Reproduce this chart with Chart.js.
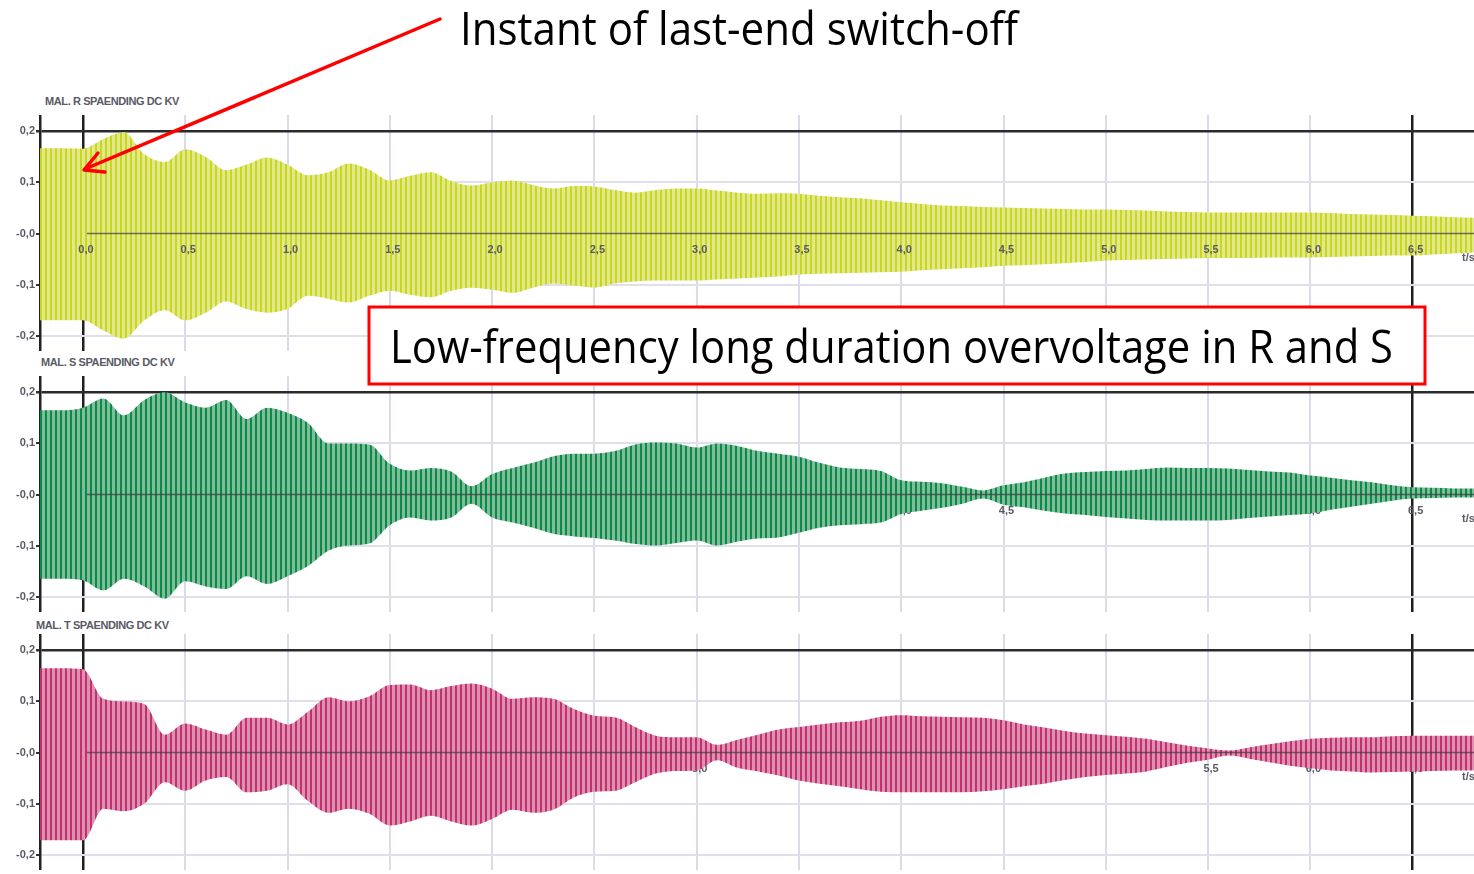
<!DOCTYPE html>
<html>
<head>
<meta charset="utf-8">
<script src="https://cdn.jsdelivr.net/npm/chart.js@4.4.1/dist/chart.umd.min.js"></script>
<style>
  body { margin: 0; width: 1474px; height: 874px; background: #fff; position: relative; overflow: hidden;
         font-family: "Liberation Sans", Arial, sans-serif; }
  .panel { position: absolute; left: 0; width: 1474px; }
  .ttl { position: absolute; font-size: 11px; font-weight: bold; color: #5a5a66; letter-spacing: -0.4px; white-space: nowrap; }
  .note { position: absolute; font-family: "Open Sans", sans-serif; font-size: 46px; line-height: 46px;
          color: #000; white-space: nowrap; transform-origin: 0 0; }
  svg { position: absolute; left: 0; top: 0; }
</style>
</head>
<body>
<div class="ttl" style="left:45px;top:95px">MAL. R SPAENDING DC KV</div>
<div class="ttl" style="left:41px;top:356px">MAL. S SPAENDING DC KV</div>
<div class="ttl" style="left:36px;top:619px">MAL. T SPAENDING DC KV</div>

<div class="panel" style="top:115px;height:236px"><canvas id="pR"></canvas></div>
<div class="panel" style="top:376px;height:236px"><canvas id="pS"></canvas></div>
<div class="panel" style="top:634px;height:236px"><canvas id="pT"></canvas></div>

<svg width="1474" height="874">
  <rect x="369" y="307" width="1056" height="77" fill="#fff" stroke="#f00" stroke-width="3"/>
  <line x1="440" y1="19" x2="85" y2="169" stroke="#f00" stroke-width="3.5" stroke-linecap="round"/>
  <polyline points="98,153 84,170 105,172" fill="none" stroke="#f00" stroke-width="3.5" stroke-linecap="round" stroke-linejoin="round"/>
</svg>
<div class="note" id="n1" style="left:460px;top:4px">Instant of last-end switch-off</div>
<div class="note" id="n2" style="left:390px;top:322px">Low-frequency long duration overvoltage in R and S</div>

<script>
// time axis (s) for the envelope readings
const times = [
  -0.21, -0.1, 0, 0.1, 0.2, 0.3, 0.4, 0.5, 0.6, 0.7,
  0.8, 0.9, 1.0, 1.1, 1.2, 1.3, 1.4, 1.5, 1.6, 1.7,
  1.8, 1.9, 2.0, 2.1, 2.2, 2.3, 2.4, 2.5, 2.6, 2.7,
  2.8, 2.9, 3.0, 3.1, 3.2, 3.3, 3.4, 3.5, 3.6, 3.7,
  3.8, 3.9, 4.0, 4.1, 4.2, 4.3, 4.4, 4.5, 4.6, 4.7,
  4.8, 4.9, 5.0, 5.1, 5.2, 5.3, 5.4, 5.5, 5.6, 5.7,
  5.8, 5.9, 6.0, 6.1, 6.2, 6.3, 6.4, 6.5, 6.6, 6.7,
  6.8
];

// phase R (yellow): positive and negative peak envelope, kV
const rUpper = [
  0.167, 0.167, 0.166, 0.185, 0.198, 0.155, 0.140, 0.165, 0.150, 0.124,
  0.135, 0.149, 0.135, 0.114, 0.120, 0.137, 0.125, 0.104, 0.113, 0.120,
  0.103, 0.094, 0.100, 0.104, 0.095, 0.088, 0.093, 0.092, 0.085, 0.080,
  0.085, 0.088, 0.088, 0.084, 0.080, 0.078, 0.079, 0.078, 0.074, 0.071,
  0.069, 0.065, 0.061, 0.058, 0.055, 0.054, 0.052, 0.051, 0.050, 0.049,
  0.048, 0.047, 0.047, 0.046, 0.045, 0.043, 0.042, 0.041, 0.041, 0.041,
  0.041, 0.041, 0.041, 0.040, 0.038, 0.037, 0.036, 0.035, 0.034, 0.032,
  0.031
];
const rLower = [
  -0.170, -0.170, -0.170, -0.190, -0.206, -0.170, -0.150, -0.170, -0.155, -0.133,
  -0.148, -0.155, -0.148, -0.122, -0.128, -0.135, -0.122, -0.112, -0.120, -0.125,
  -0.112, -0.106, -0.110, -0.116, -0.106, -0.098, -0.102, -0.106, -0.098, -0.094,
  -0.092, -0.092, -0.092, -0.090, -0.088, -0.086, -0.084, -0.080, -0.079, -0.078,
  -0.077, -0.076, -0.075, -0.072, -0.070, -0.068, -0.066, -0.063, -0.062, -0.060,
  -0.058, -0.056, -0.053, -0.052, -0.051, -0.050, -0.049, -0.048, -0.048, -0.048,
  -0.047, -0.047, -0.047, -0.046, -0.045, -0.044, -0.043, -0.043, -0.041, -0.039,
  -0.037
];

// phase S (green)
const sUpper = [
  0.165, 0.165, 0.170, 0.188, 0.155, 0.185, 0.200, 0.180, 0.170, 0.185,
  0.148, 0.170, 0.160, 0.140, 0.100, 0.100, 0.098, 0.060, 0.047, 0.052,
  0.045, 0.016, 0.040, 0.052, 0.062, 0.075, 0.080, 0.080, 0.085, 0.098,
  0.102, 0.100, 0.092, 0.100, 0.095, 0.085, 0.080, 0.074, 0.062, 0.053,
  0.050, 0.046, 0.028, 0.025, 0.022, 0.015, 0.008, 0.018, 0.024, 0.033,
  0.041, 0.044, 0.046, 0.047, 0.050, 0.053, 0.052, 0.052, 0.051, 0.048,
  0.045, 0.043, 0.037, 0.033, 0.028, 0.024, 0.018, 0.014, 0.013, 0.012,
  0.012
];
const sLower = [
  -0.165, -0.165, -0.168, -0.188, -0.165, -0.180, -0.204, -0.170, -0.180, -0.185,
  -0.160, -0.175, -0.160, -0.140, -0.110, -0.100, -0.096, -0.060, -0.045, -0.051,
  -0.045, -0.018, -0.045, -0.055, -0.065, -0.077, -0.082, -0.085, -0.090, -0.097,
  -0.100, -0.095, -0.090, -0.100, -0.092, -0.086, -0.084, -0.075, -0.065, -0.060,
  -0.058, -0.055, -0.038, -0.032, -0.026, -0.018, -0.008, -0.020, -0.025, -0.032,
  -0.037, -0.040, -0.044, -0.047, -0.050, -0.051, -0.051, -0.051, -0.050, -0.046,
  -0.043, -0.040, -0.037, -0.030, -0.024, -0.018, -0.012, -0.008, -0.007, -0.006,
  -0.006
];

// phase T (magenta)
const tUpper = [
  0.165, 0.165, 0.163, 0.105, 0.100, 0.095, 0.035, 0.057, 0.045, 0.035,
  0.068, 0.068, 0.055, 0.080, 0.108, 0.100, 0.110, 0.132, 0.133, 0.122,
  0.130, 0.135, 0.125, 0.105, 0.108, 0.105, 0.085, 0.072, 0.069, 0.050,
  0.033, 0.030, 0.030, 0.015, 0.025, 0.035, 0.045, 0.050, 0.055, 0.059,
  0.062, 0.070, 0.073, 0.071, 0.070, 0.069, 0.068, 0.063, 0.055, 0.049,
  0.042, 0.037, 0.034, 0.031, 0.027, 0.020, 0.013, 0.008, 0.004, 0.010,
  0.016, 0.022, 0.027, 0.029, 0.030, 0.030, 0.032, 0.033, 0.033, 0.033,
  0.033
];
const tLower = [
  -0.172, -0.172, -0.172, -0.110, -0.115, -0.100, -0.058, -0.075, -0.055, -0.048,
  -0.078, -0.075, -0.062, -0.095, -0.118, -0.110, -0.120, -0.143, -0.135, -0.124,
  -0.135, -0.143, -0.130, -0.112, -0.118, -0.112, -0.088, -0.077, -0.075, -0.058,
  -0.041, -0.036, -0.035, -0.015, -0.030, -0.037, -0.045, -0.055, -0.061, -0.066,
  -0.072, -0.077, -0.078, -0.078, -0.078, -0.078, -0.076, -0.072, -0.066, -0.061,
  -0.054, -0.048, -0.044, -0.041, -0.037, -0.028, -0.020, -0.014, -0.006, -0.012,
  -0.019, -0.026, -0.031, -0.035, -0.037, -0.039, -0.038, -0.037, -0.036, -0.035,
  -0.035
];

const xTickValues = [0, 0.5, 1.0, 1.5, 2.0, 2.5, 3.0, 3.5, 4.0, 4.5, 5.0, 5.5, 6.0, 6.5];
const xTickLabels = ['0,0', '0,5', '1,0', '1,5', '2,0', '2,5', '3,0', '3,5', '4,0', '4,5', '5,0', '5,5', '6,0', '6,5'];
const xUnit = 't/s';
const yTicks = [-0.2, -0.1, 0, 0.1, 0.2];

function stripes(dark, light) {
  const c = document.createElement('canvas');
  c.width = 5; c.height = 4;
  const g = c.getContext('2d');
  g.fillStyle = light; g.fillRect(0, 0, 5, 4);
  g.fillStyle = dark; g.fillRect(0, 0, 2, 4);
  return g.createPattern(c, 'repeat');
}

const near = (a, b) => Math.abs(a - b) < 1e-6;

const panelDecor = {
  id: 'panelDecor',
  drawLabels(chart) {
    const { ctx, chartArea, scales: { x, y } } = chart;
    const y0 = y.getPixelForValue(0);
    ctx.save();
    ctx.font = 'bold 11px "Liberation Sans", Arial';
    ctx.fillStyle = '#5a5a66';
    ctx.textAlign = 'center';
    ctx.textBaseline = 'middle';
    xTickValues.forEach((v, i) => ctx.fillText(xTickLabels[i], x.getPixelForValue(v) + 3, y0 + 16));
    ctx.textAlign = 'left';
    ctx.fillText(xUnit, chartArea.right - 12, y0 + 24);
    ctx.restore();
  },
  beforeDatasetsDraw(chart, args, opts) {
    if (!opts.labelsOnTop) this.drawLabels(chart);
  },
  afterDatasetsDraw(chart, args, opts) {
    const { ctx, chartArea, scales: { x, y } } = chart;
    const y0 = y.getPixelForValue(0);
    ctx.save();
    ctx.strokeStyle = 'rgba(60,60,60,0.7)';
    ctx.lineWidth = 1.5;
    ctx.beginPath();
    ctx.moveTo(x.getPixelForValue(0) + 4, y0);
    ctx.lineTo(chartArea.right, y0);
    ctx.stroke();
    ctx.restore();
    if (opts.labelsOnTop) this.drawLabels(chart);
  }
};

function makePanel(id, upper, lower, dark, light, labelsOnTop) {
  const fillPattern = stripes(dark, light);
  new Chart(document.getElementById(id), {
    type: 'line',
    data: {
      datasets: [
        { data: times.map((t, i) => ({ x: t, y: upper[i] })), fill: '+1', backgroundColor: fillPattern,
          borderWidth: 0, pointRadius: 0, cubicInterpolationMode: 'monotone' },
        { data: times.map((t, i) => ({ x: t, y: lower[i] })), fill: false,
          borderWidth: 0, pointRadius: 0, cubicInterpolationMode: 'monotone' }
      ]
    },
    options: {
      responsive: true,
      maintainAspectRatio: false,
      animation: false,
      layout: { padding: 0 },
      plugins: { legend: { display: false }, tooltip: { enabled: false }, panelDecor: { labelsOnTop } },
      scales: {
        x: {
          type: 'linear', min: -0.21, max: 6.8, z: 1,
          afterFit: s => { s.height = 0; s.paddingLeft = 0; s.paddingRight = 0; },
          ticks: { stepSize: 0.5, includeBounds: false, display: false },
          grid: {
            drawTicks: false,
            color: c => (near(c.tick.value, 0) || near(c.tick.value, 6.5)) ? '#1f1f1f' : 'rgba(215,215,228,0.9)',
            lineWidth: c => (near(c.tick.value, 0) || near(c.tick.value, 6.5)) ? 2.5 : 2
          },
          border: { display: false }
        },
        y: {
          min: -0.23, max: 0.232,
          afterFit: s => { s.width = 40; s.paddingTop = 0; s.paddingBottom = 0; },
          afterBuildTicks: s => { s.ticks = yTicks.map(v => ({ value: v })); },
          ticks: {
            padding: 1,
            color: '#5a5a66',
            font: { size: 11, weight: 'bold', family: '"Liberation Sans", Arial' },
            callback: v => near(v, 0) ? '-0,0' : v.toFixed(1).replace('.', ',')
          },
          grid: {
            tickLength: 4,
            tickColor: '#333',
            color: c => near(c.tick.value, 0.2) ? '#2b2b2b' : (near(c.tick.value, 0) ? 'rgba(0,0,0,0)' : '#e0e0ea'),
            lineWidth: c => near(c.tick.value, 0.2) ? 2.5 : 2
          },
          border: { color: '#222', width: 2.5 }
        }
      }
    },
    plugins: [panelDecor]
  });
}

makePanel('pR', rUpper, rLower, '#cad61c', '#e1e98c', true);
makePanel('pS', sUpper, sLower, '#0a8a4a', '#7fbc98', false);
makePanel('pT', tUpper, tLower, '#c2306d', '#de90b2', false);

// fit annotation texts to their widths in the reference
[['n1', 558], ['n2', 1003]].forEach(([id, w]) => {
  const el = document.getElementById(id);
  const cur = el.getBoundingClientRect().width;
  el.style.transform = 'scaleX(' + (w / cur) + ')';
});
</script>
</body>
</html>
